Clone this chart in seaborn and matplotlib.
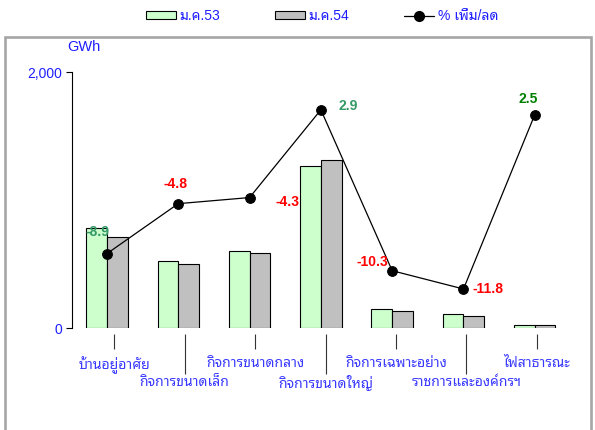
import matplotlib
matplotlib.use("Agg")
import numpy as np
import pandas as pd
import matplotlib.pyplot as plt
import seaborn as sns
from matplotlib import font_manager
from matplotlib.patches import Rectangle, Patch
from matplotlib.lines import Line2D
from matplotlib.ticker import FuncFormatter

# ข้อมูล
categories = ["บ้านอยู่อาศัย", "กิจการขนาดเล็ก", "กิจการขนาดกลาง", "กิจการขนาดใหญ่",
              "กิจการเฉพาะอย่าง", "ราชการและองค์กรฯ", "ไฟสาธารณะ"]
series_names = ["ม.ค.53", "ม.ค.54"]
gwh_53 = [779, 526, 604, 1268, 146, 107, 21]
gwh_54 = [708, 498, 583, 1310, 133, 91, 21]
pct_change = [-8.9, -4.8, -4.3, 2.9, -10.3, -11.8, 2.5]
pct_labels = ["-8.9", "-4.8", "-4.3", "2.9", "-10.3", "-11.8", "2.5"]
line_name = "% เพิ่ม/ลด"

sns.set_theme(style="white")

# หาฟอนต์ที่มีอักษรไทย
names = {f.name for f in font_manager.fontManager.ttflist}
thai_font = "DejaVu Sans"
for cand in ["Noto Sans Thai Looped", "Sarabun", "Noto Sans Thai", "IBM Plex Sans Thai",
             "Anuphan", "Bai Jamjuree"]:
    if cand in names:
        thai_font = cand
        break
plt.rcParams["font.family"] = ["Liberation Sans", thai_font, "DejaVu Sans"]

blue = "#1E1EFF"
label_blue = "#3A3AFF"

df = pd.DataFrame({
    "cat": categories * 2,
    "year": [series_names[0]] * 7 + [series_names[1]] * 7,
    "gwh": gwh_53 + gwh_54,
})

fig = plt.figure(figsize=(5.95, 4.3), dpi=100)
ax = fig.add_axes([72 / 595, 1 - 328 / 430, (579 - 72) / 595, (328 - 72) / 430])

sns.barplot(data=df, x="cat", y="gwh", hue="year", ax=ax, width=0.58,
            palette={series_names[0]: "#CCFFCC", series_names[1]: "#C0C0C0"},
            edgecolor="black", linewidth=0.8, legend=False, saturation=1)

ax.set_xlim(-0.49, 6.62)
ax.set_ylim(0, 2000)
ax.set_yticks([0, 2000])
ax.yaxis.set_major_formatter(FuncFormatter(lambda v, p: f"{v:,.0f}"))
ax.tick_params(axis="y", direction="out", length=4, width=0.8, color="black",
               labelcolor=blue, labelsize=10, pad=3, left=True)
ax.set_xlabel("")
ax.set_ylabel("")
for s in ["top", "right"]:
    ax.spines[s].set_visible(False)
ax.spines["left"].set_color("black")
ax.spines["left"].set_linewidth(0.8)
ax.spines["bottom"].set_color("none")
ax.spines["bottom"].set_position(("outward", 4))

# ขีดแกน x สลับสั้น/ยาว ป้ายชื่อกลุ่มสองแถว
tick_pos = np.linspace(0.1, 6.03, len(categories))
ax.set_xticks(tick_pos[0::2])
ax.set_xticklabels(categories[0::2])
ax.set_xticks(tick_pos[1::2], minor=True)
ax.set_xticklabels(categories[1::2], minor=True)
ax.tick_params(axis="x", which="major", direction="out", length=11, width=0.8,
               color="#333333", bottom=True, pad=5.5, labelsize=10, labelcolor=label_blue)
ax.tick_params(axis="x", which="minor", direction="out", length=29, width=0.8,
               color="#333333", bottom=True, pad=0.8, labelsize=10, labelcolor=label_blue)

# เส้น % เพิ่ม/ลด บนแกนรอง
ax2 = ax.twinx()
pos = np.arange(len(categories))
sns.lineplot(x=pos, y=pct_change, ax=ax2, color="black", linewidth=0.9,
             marker="o", markersize=7, markeredgecolor="black", sort=False,
             estimator=None)
ax2.set_ylim(-15, 6)
ax2.set_xlim(-0.49, 6.62)
ax2.set_yticks([])
ax2.set_ylabel("")
for s in ax2.spines.values():
    s.set_visible(False)

label_colors = ["#339966", "#FF0000", "#FF0000", "#339966", "#FF0000", "#FF0000", "#008000"]
offsets = [(-6.5, 15.5), (-2, 14.5), (27.5, -3), (20, 3), (-14.5, 6), (18, 0), (-5, 11.5)]
for i, (v, txt) in enumerate(zip(pct_change, pct_labels)):
    ax2.annotate(txt, (pos[i], v), xytext=offsets[i], textcoords="offset points",
                 ha="center", va="center", fontsize=10, fontweight="bold",
                 color=label_colors[i])

fig.text(67 / 595, 1 - 47 / 430, "GWh", color=blue, fontsize=10.5, va="center", ha="left")

# กรอบสีเทา
fig.add_artist(Rectangle((5 / 595, -0.05), (591 - 5) / 595, 1.05 - 36.5 / 430,
                         transform=fig.transFigure, facecolor="none",
                         edgecolor="#A6A6A6", linewidth=1.9, zorder=-1))

# คำอธิบาย
handles = [
    Patch(facecolor="#CCFFCC", edgecolor="black", linewidth=0.8, label=series_names[0]),
    Patch(facecolor="#C0C0C0", edgecolor="black", linewidth=0.8, label=series_names[1]),
    Line2D([], [], color="black", linewidth=0.9, marker="o", markersize=7, label=line_name),
]
leg = fig.legend(handles=handles, loc="center", bbox_to_anchor=(322 / 595, 1 - 16 / 430),
                 ncol=3, frameon=False, fontsize=10, handlelength=2.2, handleheight=0.5,
                 handletextpad=0.25, columnspacing=3.9)
for t in leg.get_texts():
    t.set_color(blue)

fig.savefig("out.png", dpi=100)
